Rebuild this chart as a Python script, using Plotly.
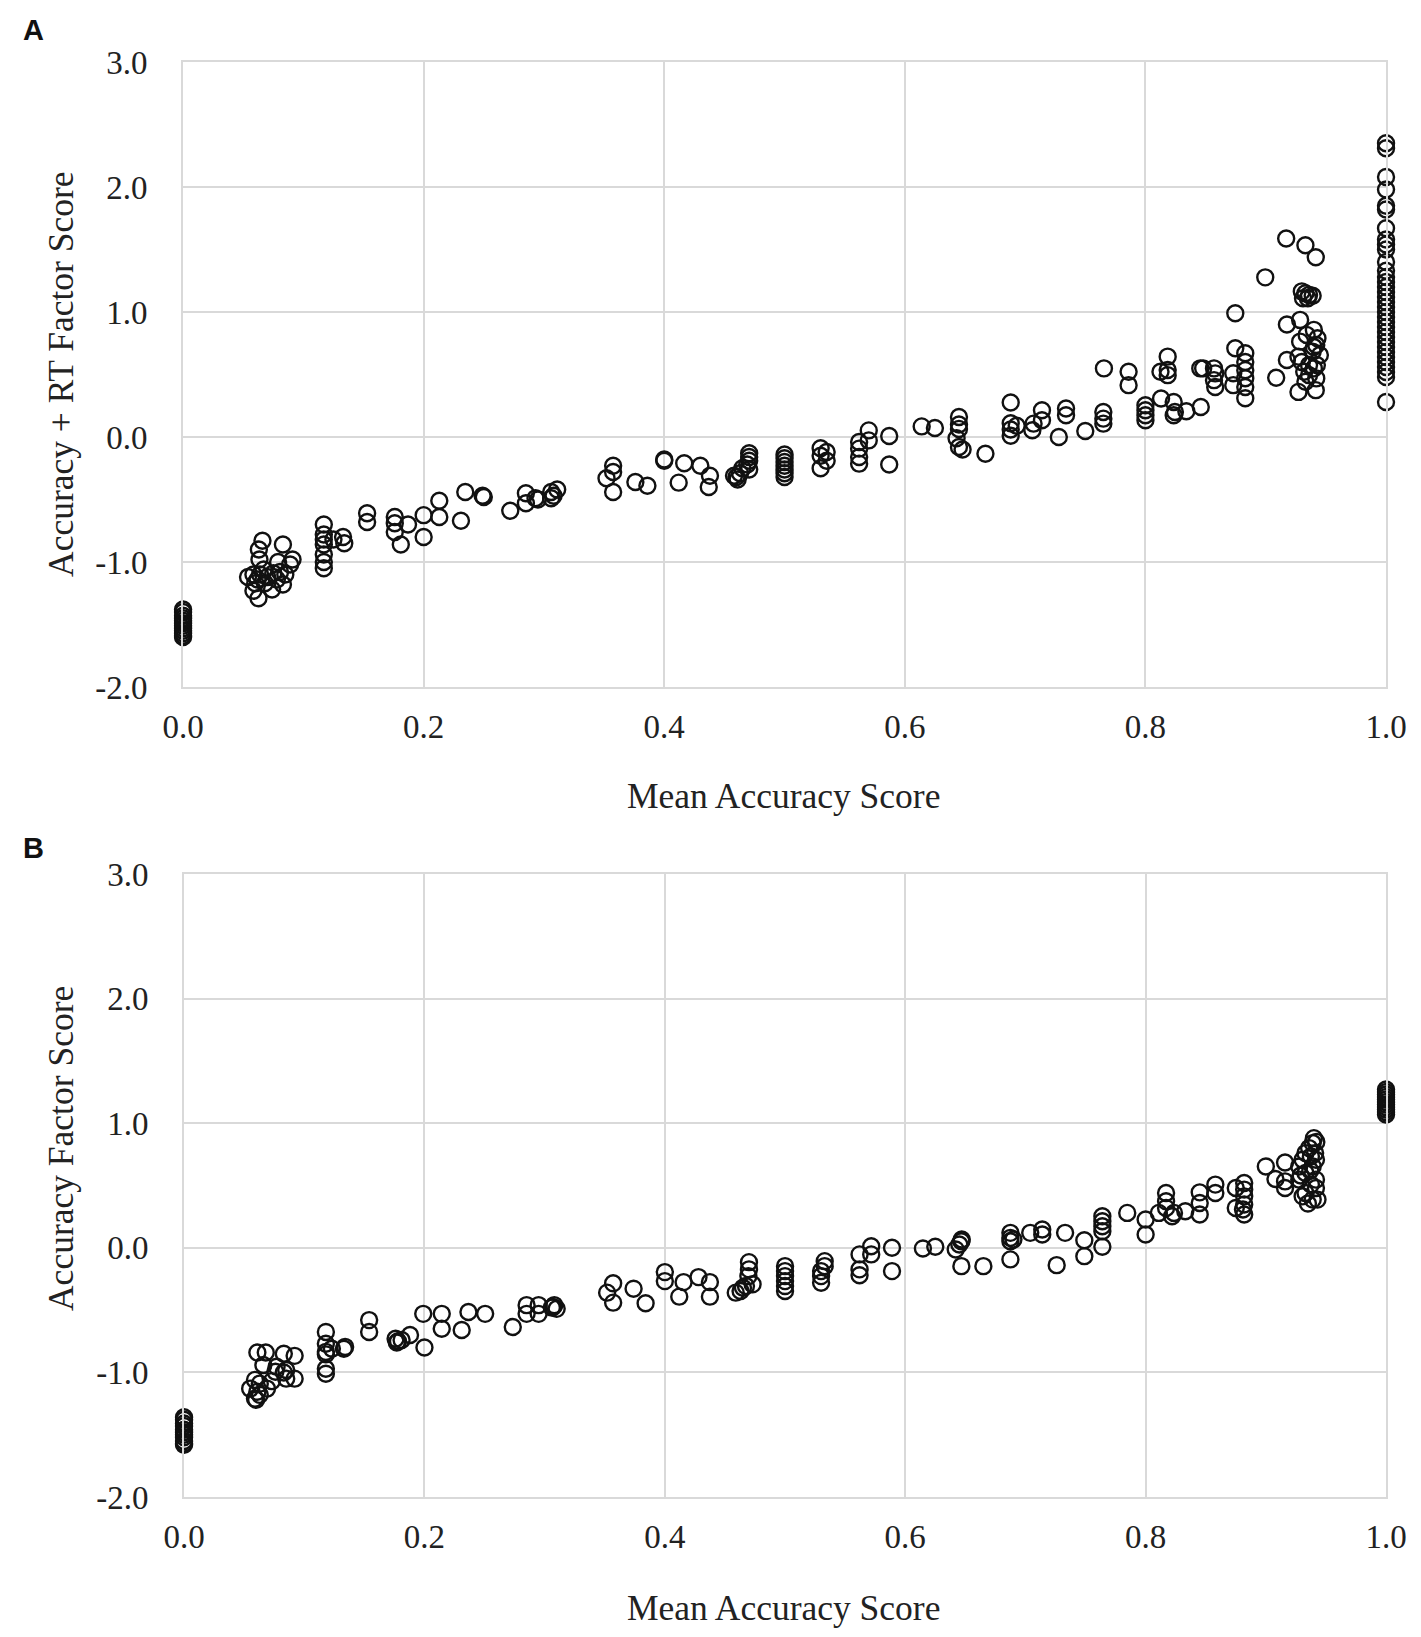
import plotly.graph_objects as go

# tick labels (Excel style, hyphen minus)
x_ticks = [0.0, 0.2, 0.4, 0.6, 0.8, 1.0]
x_tick_text = ["0.0", "0.2", "0.4", "0.6", "0.8", "1.0"]
y_ticks = [-2, -1, 0, 1, 2, 3]
y_tick_text = ["-2.0", "-1.0", "0.0", "1.0", "2.0", "3.0"]

x_title = "Mean Accuracy Score"
a_title = "Accuracy + RT Factor Score"
b_title = "Accuracy Factor Score"

# panel A : mean accuracy vs accuracy + RT factor score
a_x = [
    0.0, 0.0, 0.0, 0.0, 0.0, 0.0, 0.0, 0.0, 0.0, 0.0, 0.0, 0.0,
    0.066, 0.083, 0.063, 0.0635, 0.079, 0.091, 0.089, 0.0585, 0.064, 0.070, 0.075, 0.0806,
    0.085, 0.060, 0.068, 0.083, 0.074, 0.0585, 0.0627, 0.078, 0.054, 0.062, 0.067,
    0.117, 0.117, 0.117, 0.117, 0.117, 0.117, 0.117, 0.125, 0.133, 0.134,
    0.153, 0.153, 0.176, 0.176, 0.176, 0.181, 0.187, 0.200, 0.200, 0.213, 0.213,
    0.231, 0.2346, 0.249, 0.250, 0.272, 0.285, 0.285, 0.293, 0.295,
    0.306, 0.306, 0.311, 0.308,
    0.3575, 0.3575, 0.352, 0.3575, 0.376, 0.386, 0.400, 0.400, 0.4166, 0.412,
    0.430, 0.438, 0.437,
    0.4706, 0.4706, 0.4706, 0.469, 0.4706, 0.465, 0.463, 0.460, 0.461, 0.458,
    0.500, 0.500, 0.500, 0.500, 0.500, 0.500, 0.500,
    0.530, 0.535, 0.530, 0.535, 0.530,
    0.570, 0.570, 0.562, 0.562, 0.562, 0.562, 0.587, 0.587, 0.614, 0.625,
    0.645, 0.645, 0.645, 0.643, 0.645, 0.648, 0.667,
    0.688, 0.688, 0.688, 0.688, 0.693, 0.706, 0.707, 0.714, 0.714, 0.728,
    0.734, 0.734, 0.750, 0.765, 0.765, 0.765, 0.7655, 0.786, 0.786,
    0.800, 0.800, 0.800, 0.800, 0.813, 0.8185, 0.8185, 0.8125, 0.8185,
    0.8235, 0.8245, 0.8235, 0.834, 0.846,
    0.8456, 0.848, 0.857, 0.858, 0.857, 0.858, 0.8747, 0.8747,
    0.883, 0.883, 0.883, 0.883, 0.883, 0.883, 0.873, 0.873,
    0.8996, 0.9087, 0.917, 0.9176, 0.9176, 0.933, 0.9416,
    0.930, 0.933, 0.936, 0.935, 0.939, 0.931, 0.9286,
    0.940, 0.943, 0.942, 0.934, 0.9286,
    0.9272, 0.930, 0.936, 0.940, 0.9425, 0.932, 0.936, 0.942, 0.933, 0.9272, 0.9416,
    0.939, 0.945, 0.940,
    1.0, 1.0, 1.0, 1.0, 1.0, 1.0, 1.0, 1.0, 1.0, 1.0, 1.0, 1.0, 1.0, 1.0, 1.0, 1.0, 1.0,
    1.0, 1.0, 1.0, 1.0, 1.0, 1.0, 1.0, 1.0, 1.0, 1.0, 1.0, 1.0, 1.0, 1.0, 1.0, 1.0, 1.0,
]
a_y = [
    -1.38, -1.40, -1.43, -1.45, -1.47, -1.49, -1.51, -1.53, -1.55, -1.57, -1.59, -1.60,
    -0.83, -0.86, -0.90, -0.98, -1.00, -0.98, -1.02, -1.10, -1.10, -1.12, -1.09, -1.08,
    -1.10, -1.17, -1.17, -1.18, -1.22, -1.23, -1.29, -1.14, -1.12, -1.14, -1.06,
    -0.70, -0.78, -0.82, -0.86, -0.94, -1.00, -1.05, -0.82, -0.80, -0.85,
    -0.61, -0.68, -0.64, -0.69, -0.76, -0.86, -0.70, -0.625, -0.80, -0.51, -0.64,
    -0.67, -0.44, -0.47, -0.48, -0.59, -0.45, -0.53, -0.49, -0.50,
    -0.44, -0.49, -0.42, -0.47,
    -0.23, -0.28, -0.33, -0.44, -0.36, -0.39, -0.18, -0.19, -0.21, -0.365,
    -0.23, -0.31, -0.40,
    -0.13, -0.16, -0.19, -0.22, -0.26, -0.25, -0.29, -0.32, -0.34, -0.31,
    -0.14, -0.17, -0.20, -0.23, -0.26, -0.29, -0.32,
    -0.09, -0.12, -0.15, -0.19, -0.25,
    0.053, -0.027, -0.04, -0.093, -0.16, -0.213, 0.008, -0.22, 0.085, 0.072,
    0.16, 0.10, 0.065, -0.01, -0.08, -0.10, -0.134,
    0.276, 0.11, 0.06, 0.01, 0.09, 0.054, 0.107, 0.214, 0.134, 0.0,
    0.228, 0.174, 0.048, 0.20, 0.147, 0.107, 0.549, 0.522, 0.415,
    0.254, 0.214, 0.174, 0.134, 0.308, 0.643, 0.536, 0.522, 0.495,
    0.28, 0.20, 0.174, 0.206, 0.24,
    0.549, 0.549, 0.549, 0.509, 0.455, 0.40, 0.99, 0.71,
    0.67, 0.60, 0.535, 0.47, 0.40, 0.31, 0.51, 0.415,
    1.277, 0.474, 1.588, 0.90, 0.616, 1.534, 1.438,
    1.165, 1.15, 1.137, 1.11, 1.13, 1.11, 0.937,
    0.857, 0.79, 0.736, 0.817, 0.763,
    0.643, 0.60, 0.576, 0.549, 0.576, 0.522, 0.495, 0.469, 0.442, 0.361, 0.375,
    0.683, 0.656, 0.72,
    2.35, 2.31, 2.08, 1.98, 1.85, 1.82, 1.67, 1.58, 1.54, 1.50, 1.40, 1.33, 1.28, 1.24, 1.20, 1.16, 1.12,
    1.08, 1.04, 1.00, 0.96, 0.92, 0.88, 0.84, 0.80, 0.76, 0.72, 0.68, 0.64, 0.60, 0.56, 0.52, 0.48, 0.28,
]

# panel B : mean accuracy vs accuracy factor score
b_x = [
    0.0, 0.0, 0.0, 0.0, 0.0, 0.0, 0.0, 0.0, 0.0, 0.0, 0.0,
    0.061, 0.068, 0.083, 0.092, 0.066, 0.077, 0.085, 0.092, 0.085, 0.059,
    0.063, 0.073, 0.061, 0.059, 0.063, 0.055, 0.069, 0.076, 0.060, 0.083,
    0.118, 0.118, 0.118, 0.118, 0.118, 0.118, 0.123, 0.133, 0.134,
    0.154, 0.154, 0.176, 0.178, 0.181, 0.188, 0.177, 0.200, 0.199,
    0.2144, 0.2144, 0.231, 0.2366, 0.2505, 0.2735,
    0.285, 0.285, 0.295, 0.295, 0.307, 0.308, 0.310, 0.306,
    0.357, 0.352, 0.357, 0.374, 0.384, 0.400, 0.400, 0.4156, 0.412,
    0.428, 0.4375, 0.4375,
    0.470, 0.470, 0.4695, 0.473, 0.4675, 0.463, 0.459, 0.465,
    0.500, 0.500, 0.500, 0.500, 0.500, 0.500,
    0.533, 0.533, 0.530, 0.530, 0.530,
    0.5717, 0.5717, 0.562, 0.562, 0.562, 0.589, 0.589, 0.6147, 0.625,
    0.6467, 0.645, 0.642, 0.6467, 0.647, 0.665,
    0.6875, 0.6875, 0.6875, 0.690, 0.6875, 0.704, 0.714, 0.714, 0.726, 0.733,
    0.749, 0.749, 0.764, 0.764, 0.764, 0.764, 0.764, 0.7847, 0.800, 0.800,
    0.811, 0.817, 0.817, 0.817, 0.822, 0.8236, 0.833,
    0.845, 0.845, 0.845, 0.858, 0.858,
    0.875, 0.875, 0.882, 0.882, 0.882, 0.882, 0.882, 0.881,
    0.900, 0.908, 0.916, 0.916, 0.916,
    0.940, 0.939, 0.936, 0.933, 0.9375, 0.9417, 0.9306, 0.9278, 0.939, 0.933, 0.9278, 0.9417,
    0.9375, 0.9417, 0.933, 0.9306, 0.939, 0.935, 0.943, 0.942, 0.937, 0.941, 0.929,
    1.0, 1.0, 1.0, 1.0, 1.0, 1.0, 1.0, 1.0, 1.0, 1.0, 1.0,
]
b_y = [
    -1.36, -1.38, -1.41, -1.43, -1.46, -1.48, -1.50, -1.52, -1.55, -1.57, -1.58,
    -0.84, -0.84, -0.85, -0.867, -0.94, -0.955, -0.98, -1.05, -1.05, -1.06,
    -1.09, -1.07, -1.155, -1.21, -1.18, -1.13, -1.13, -0.995, -1.22, -1.00,
    -0.675, -0.77, -0.835, -0.855, -0.97, -1.01, -0.81, -0.81, -0.795,
    -0.58, -0.675, -0.73, -0.75, -0.74, -0.70, -0.76, -0.80, -0.53,
    -0.53, -0.65, -0.66, -0.515, -0.53, -0.635,
    -0.46, -0.53, -0.46, -0.53, -0.475, -0.46, -0.49, -0.48,
    -0.285, -0.36, -0.44, -0.328, -0.445, -0.195, -0.267, -0.275, -0.392,
    -0.235, -0.275, -0.392,
    -0.115, -0.173, -0.227, -0.293, -0.307, -0.347, -0.36, -0.32,
    -0.147, -0.187, -0.227, -0.267, -0.307, -0.347,
    -0.107, -0.147, -0.187, -0.227, -0.28,
    0.013, -0.053, -0.053, -0.173, -0.22, 0.0, -0.187, -0.005, 0.008,
    0.053, 0.027, -0.013, -0.147, 0.067, -0.147,
    0.12, 0.08, 0.053, 0.067, -0.093, 0.12, 0.147, 0.107, -0.139, 0.12,
    0.061, -0.067, 0.253, 0.213, 0.173, 0.133, 0.008, 0.28, 0.227, 0.107,
    0.28, 0.44, 0.373, 0.32, 0.253, 0.28, 0.293,
    0.445, 0.36, 0.267, 0.507, 0.44,
    0.48, 0.32, 0.52, 0.467, 0.413, 0.347, 0.267, 0.307,
    0.653, 0.552, 0.685, 0.533, 0.48,
    0.88, 0.84, 0.80, 0.76, 0.733, 0.707, 0.707, 0.653, 0.653, 0.60, 0.547, 0.547,
    0.507, 0.48, 0.44, 0.413, 0.387, 0.355, 0.387, 0.85, 0.62, 0.76, 0.58,
    1.27, 1.25, 1.23, 1.21, 1.19, 1.17, 1.15, 1.13, 1.11, 1.09, 1.07,
]

serif = "Liberation Serif"
grid = "#d9d9d9"

fig = go.Figure()
marker = dict(symbol="circle-open", size=16, color="#111111", line=dict(width=2.4, color="#111111"))
fig.add_trace(go.Scatter(x=a_x, y=a_y, mode="markers", marker=marker, cliponaxis=False,
                         xaxis="x", yaxis="y"))
fig.add_trace(go.Scatter(x=b_x, y=b_y, mode="markers", marker=marker, cliponaxis=False,
                         xaxis="x2", yaxis="y2"))

xax = dict(range=[0, 1], tickvals=x_ticks, ticktext=x_tick_text, showgrid=True,
           gridcolor=grid, gridwidth=2, showline=True, mirror=True, linecolor=grid,
           linewidth=2, zeroline=False, ticks="", ticklabelstandoff=9, automargin=False,
           tickfont=dict(family=serif, size=33, color="#222222"))
yax = dict(range=[-2, 3], tickvals=y_ticks, ticktext=y_tick_text, showgrid=True,
           gridcolor=grid, gridwidth=2, showline=True, mirror=True, linecolor=grid,
           linewidth=2, zeroline=False, ticks="", ticklabelstandoff=27, automargin=False,
           tickfont=dict(family=serif, size=33, color="#222222"))

# page body has an 8px margin, so the figure is sized to sit inside it
fig.update_layout(
    width=1405, height=1621,
    margin=dict(l=0, r=0, t=0, b=0, autoexpand=False),
    paper_bgcolor="white", plot_bgcolor="white",
    showlegend=False,
    xaxis=dict(xax, domain=[0.1246, 0.9808], anchor="y"),
    yaxis=dict(yax, domain=[0.5811, 0.9667], anchor="x"),
    xaxis2=dict(xax, domain=[0.1253, 0.9808], anchor="y2"),
    yaxis2=dict(yax, domain=[0.0814, 0.4658], anchor="x2"),
)

title_font = dict(family=serif, size=35.5, color="#222222")
label_font = dict(family="Liberation Sans", size=29, color="#111111")
notes = [
    dict(text="<b>A</b>", x=0.0185, y=0.9864, font=label_font),
    dict(text="<b>B</b>", x=0.0185, y=0.4818, font=label_font),
    dict(text=x_title, x=0.5523, y=0.5140, font=title_font),
    dict(text=x_title, x=0.5523, y=0.0130, font=title_font),
    dict(text=a_title, x=0.0377, y=0.7742, font=title_font, textangle=-90),
    dict(text=b_title, x=0.0377, y=0.2967, font=title_font, textangle=-90),
]
for n in notes:
    fig.add_annotation(xref="paper", yref="paper", showarrow=False,
                       xanchor="center", yanchor="middle", **n)

fig.write_html("out.html")
